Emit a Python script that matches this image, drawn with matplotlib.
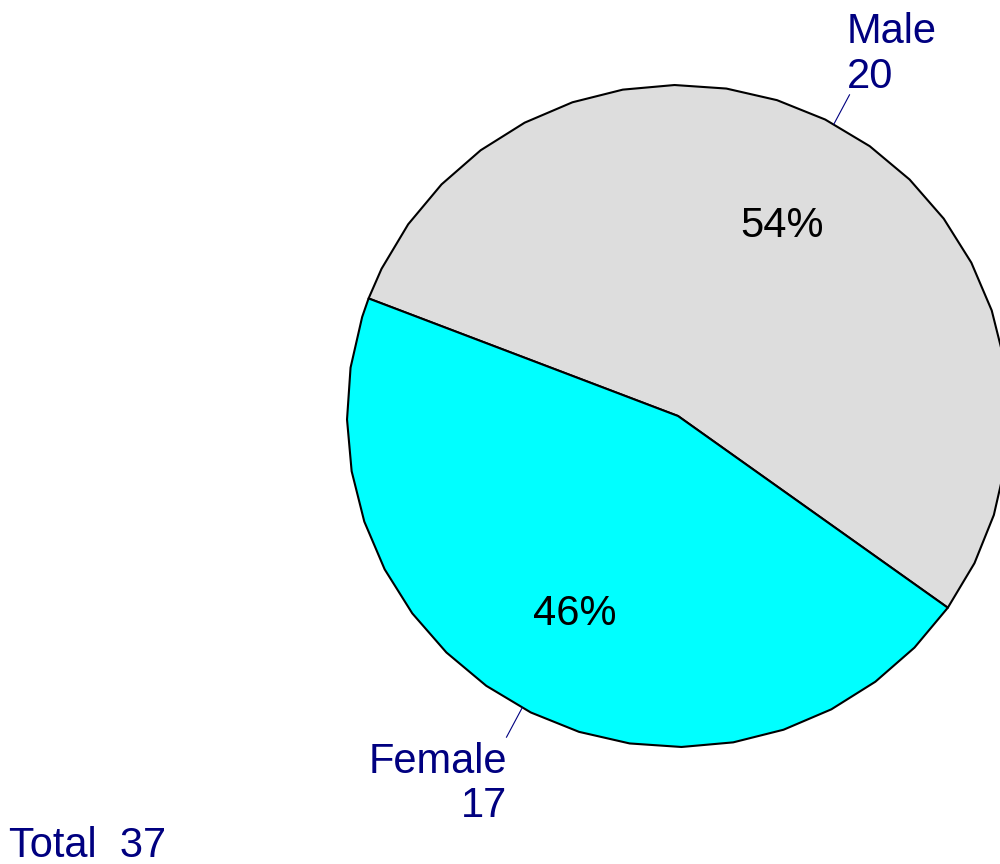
import numpy as np
import matplotlib
matplotlib.use('Agg')
import matplotlib.pyplot as plt

# --- data ---
labels = ['Male', 'Female']
counts = [20, 17]
colors = ['#DDDDDD', '#00FFFF']

plt.rcParams['font.family'] = ['Liberation Sans', 'DejaVu Sans']
NAVY = '#000080'

# --- layout (pixel coords, y down) ---
cx, cy, r = 678, 416, 331
start = -35.4      # degrees, counter-clockwise
step = 9.0         # polygon facet size
FS = 30

fig = plt.figure(figsize=(10, 8.64), dpi=100)
ax = fig.add_axes([0, 0, 1, 1])
ax.set_xlim(0, 1000)
ax.set_ylim(864, 0)
ax.axis('off')

total = sum(counts)
a0 = start
for lab, n, col in zip(labels, counts, colors):
    span = 360.0 * n / total
    a1 = a0 + span
    k0 = np.ceil((a0 - start) / step + 1e-9)
    k1 = np.floor((a1 - start) / step - 1e-9)
    inner = start + step * np.arange(k0, k1 + 1)
    angs = np.radians(np.concatenate([[a0], inner, [a1]]))
    xs = np.concatenate([[cx], cx + r * np.cos(angs), [cx]])
    ys = np.concatenate([[cy], cy - r * np.sin(angs), [cy]])
    ax.fill(xs, ys, facecolor=col, edgecolor='black', linewidth=1.5,
            joinstyle='round')

    mid = np.radians(a0 + span / 2)
    # percentage
    px, py = cx + 0.665 * r * np.cos(mid), cy - 0.665 * r * np.sin(mid)
    ax.text(px, py + 15, f"{100 * n / total:.0f}%", fontsize=FS,
            ha='center', va='baseline', color='black')
    # leader line
    x1, y1 = cx + r * np.cos(mid), cy - r * np.sin(mid)
    x2, y2 = cx + 1.1 * r * np.cos(mid), cy - 1.1 * r * np.sin(mid)
    ax.plot([x1, x2], [y1, y2], color=NAVY, linewidth=0.8)
    if np.cos(mid) >= 0:
        ax.text(x2 - 3, y2 - 7 - 45, lab, fontsize=FS, ha='left',
                va='baseline', color=NAVY)
        ax.text(x2 - 3, y2 - 7, str(n), fontsize=FS, ha='left',
                va='baseline', color=NAVY)
    else:
        ax.text(x2 + 1, y2 + 36, lab, fontsize=FS, ha='right',
                va='baseline', color=NAVY)
        ax.text(x2 + 1, y2 + 80, str(n), fontsize=FS, ha='right',
                va='baseline', color=NAVY)
    a0 = a1

ax.text(9, 857, f"Total  {total}", fontsize=FS, ha='left',
        va='baseline', color=NAVY)

fig.savefig('out.png', dpi=100)
